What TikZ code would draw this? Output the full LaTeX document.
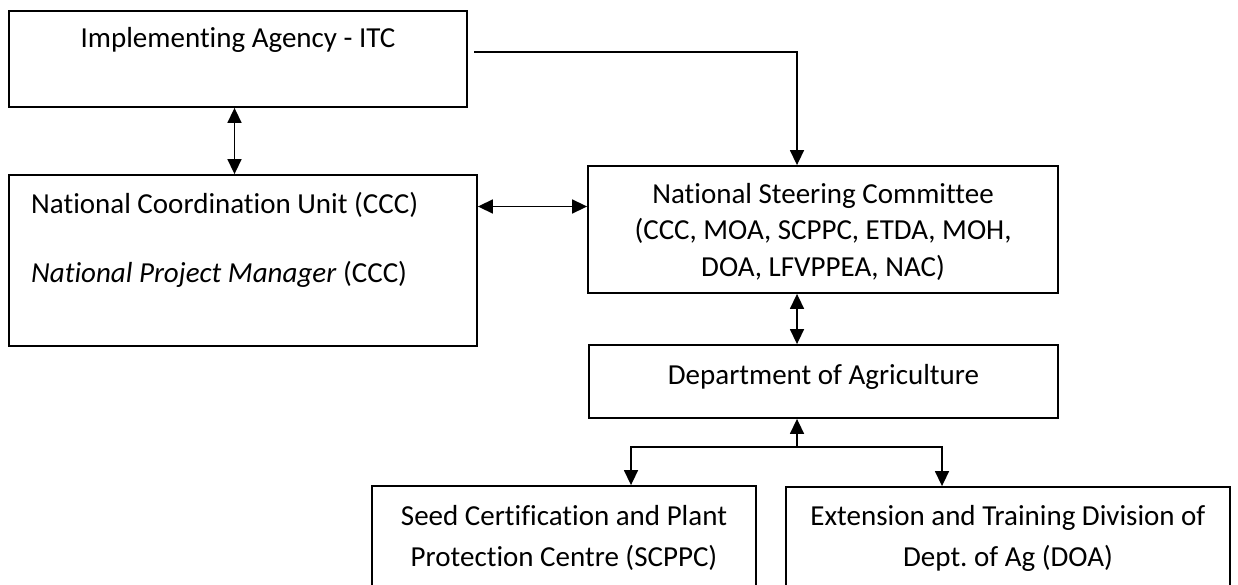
\documentclass[tikz,border=0pt]{standalone}
\usepackage{fontspec}
\setmainfont{Carlito}[Ligatures={NoCommon},RawFeature={-liga}]
\usetikzlibrary{arrows.meta}
\frenchspacing
\begin{document}
\begin{tikzpicture}[x=1pt,y=-1pt,
  box/.style={draw=black,line width=1.8pt,rectangle,inner sep=0pt},
  txt/.style={inner sep=0pt,anchor=base,font=\fontsize{29}{36}\selectfont},
  txtl/.style={inner sep=0pt,anchor=base west,font=\fontsize{29}{36}\selectfont},
  conn/.style={line width=1.5pt,draw=black},
  arr/.style={conn,-{Triangle[length=15pt,width=14pt]}},
  dbl/.style={conn,{Triangle[length=15pt,width=14pt]}-{Triangle[length=15pt,width=14pt]}}]
\useasboundingbox (0,0) rectangle (1238,585);
\clip (0,0) rectangle (1238,585);
% boxes
\node[box,minimum width=458pt,minimum height=96pt] (itc) at (238,59) {};
\node[box,minimum width=468pt,minimum height=171pt] (ncu) at (243,260.5) {};
\node[box,minimum width=470pt,minimum height=127pt] (nsc) at (823,229.5) {};
\node[box,minimum width=469pt,minimum height=73pt] (dept) at (823.5,381.5) {};
\node[box,minimum width=384pt,minimum height=134pt] (seed) at (564,553) {};
\node[box,minimum width=444pt,minimum height=134pt] (ext) at (1008,554) {};
% texts
\node[txt] (titc) at (238,48) {Implementing Agency - ITC};
\node[txtl] (tncua) at (31,214) {National Coordination Unit (CCC)};
\node[txtl] (tncub) at (31,282) {\textit{National Project Manager} (CCC)};
\node[txt] (tnsca) at (823,204) {National Steering Committee};
\node[txt] (tnscb) at (823,240) {(CCC, MOA, SCPPC, ETDA, MOH,};
\node[txt] (tnscc) at (823,276) {DOA, LFVPPEA, NAC)};
\node[txt] (tdept) at (823.5,384) {Department of Agriculture};
\node[txt] (tseeda) at (564,525) {Seed Certification and Plant};
\node[txt] (tseedb) at (564,566) {Protection Centre (SCPPC)};
\node[txt] (texta) at (1008,525) {Extension and Training Division of};
\node[txt] (textb) at (1008,566) {Dept. of Ag (DOA)};
% helper coordinates
\coordinate (start) at (474,52);
\coordinate (xa) at (797,0);
\coordinate (xb) at (234.5,0);
\coordinate (ya) at (0,206.5);
\coordinate (j) at (797,447);
\coordinate (xl) at (631,0);
\coordinate (xr) at (942,0);
% connectors
\draw[arr] (start) -| (nsc.north -| xa);
\draw[dbl] (itc.south -| xb) -- (ncu.north -| xb);
\draw[dbl] (ncu.east |- ya) -- (nsc.west |- ya);
\draw[dbl] (nsc.south -| xa) -- (dept.north -| xa);
\draw[arr] (j) -- (dept.south -| xa);
\draw[arr] (j) -| (seed.north -| xl);
\draw[arr] (j) -| (ext.north -| xr);
\end{tikzpicture}
\end{document}
